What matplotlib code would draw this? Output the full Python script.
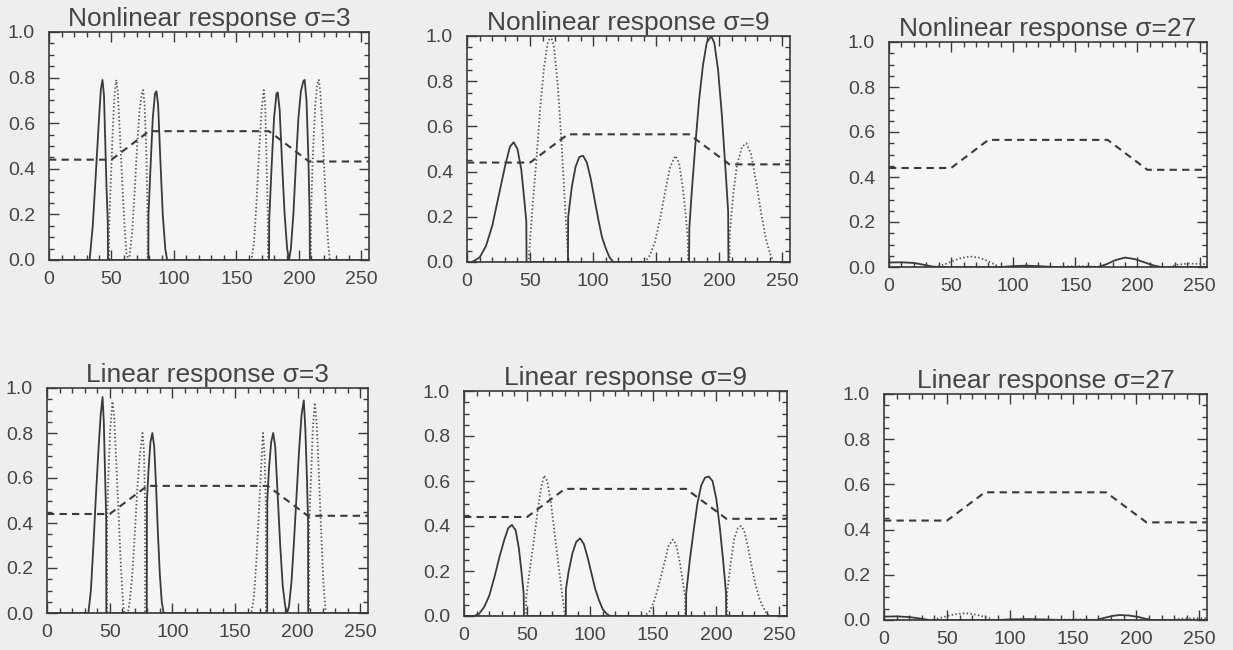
import matplotlib
matplotlib.use("Agg")
import matplotlib.pyplot as plt
from matplotlib.ticker import MultipleLocator

# ---------------- data ----------------
titles = ["Nonlinear response \u03c3=3", "Nonlinear response \u03c3=9", "Nonlinear response \u03c3=27",
          "Linear response \u03c3=3", "Linear response \u03c3=9", "Linear response \u03c3=27"]

# dashed profile (same in every panel)
dash_x = [0, 50, 80, 176, 208, 256]
dash_y = [0.44, 0.44, 0.565, 0.565, 0.432, 0.432]

# Panel 1: Nonlinear sigma=3
nl3_solid_x = [0, 32.5, 35, 37.5, 40, 41.5, 42.8, 44, 45, 46, 47, 47.2,
               79.5, 79.6, 81, 83, 84.8, 86, 87.3, 89, 91, 93, 94.5,
               176, 176.2, 178, 180, 182, 183, 184.5, 186.5, 188.5, 190.5, 192, 193.5, 195.5, 197.5,
               199.5, 201.5, 203.5, 204.5, 206, 207.5, 208.5, 208.7, 256]
nl3_solid_y = [0, 0, 0.15, 0.38, 0.62, 0.75, 0.79, 0.72, 0.52, 0.32, 0.17, 0,
               0, 0.2, 0.38, 0.62, 0.73, 0.74, 0.68, 0.45, 0.2, 0.05, 0,
               0, 0.18, 0.4, 0.62, 0.73, 0.735, 0.66, 0.42, 0.2, 0.05, 0, 0.05, 0.2, 0.42,
               0.62, 0.74, 0.785, 0.79, 0.7, 0.45, 0.2, 0, 0]
nl3_dot_x = [0, 48, 48.2, 49.5, 51, 52.5, 53.8, 55, 56.5, 58.5, 60.5, 62, 63.5, 64.5, 66.5, 68.5,
             70.5, 72.5, 74.5, 75.3, 76.5, 78, 78.8, 79,
             162, 164, 166, 168, 170, 171.8, 173, 174, 175, 175.2,
             209.5, 209.6, 211, 213, 214.5, 215.8, 217, 219, 221, 223, 224.6, 256]
nl3_dot_y = [0, 0, 0.17, 0.35, 0.57, 0.73, 0.79, 0.74, 0.58, 0.35, 0.14, 0.03, 0, 0.02, 0.12, 0.3,
             0.5, 0.66, 0.74, 0.745, 0.68, 0.45, 0.2, 0,
             0, 0.08, 0.25, 0.47, 0.65, 0.745, 0.68, 0.45, 0.2, 0,
             0, 0.2, 0.45, 0.68, 0.77, 0.79, 0.74, 0.55, 0.3, 0.1, 0, 0]

# Panel 2: Nonlinear sigma=9
nl9_solid_x = [0, 4, 10, 15, 20, 25, 30, 34, 37, 40, 43, 45.5, 47, 47.2,
               80, 80.2, 83, 86, 89, 92, 95, 98, 101, 104, 107, 110, 113, 116,
               176, 176.2, 178, 181, 184, 187, 190, 193.5, 196, 199, 202, 205, 207, 207.2, 256]
nl9_solid_y = [0, 0, 0.02, 0.07, 0.16, 0.29, 0.42, 0.51, 0.53, 0.5, 0.41, 0.27, 0.18, 0,
               0, 0.2, 0.33, 0.42, 0.465, 0.47, 0.44, 0.37, 0.28, 0.19, 0.11, 0.06, 0.02, 0,
               0, 0.15, 0.3, 0.52, 0.72, 0.87, 0.97, 1.0, 0.97, 0.85, 0.65, 0.4, 0.22, 0, 0]
nl9_dot_x = [0, 48.8, 50, 52, 55, 58, 61, 64, 66.5, 69, 72, 75, 78, 80, 80.5,
             141, 145, 149, 153, 157, 161, 165, 168, 171, 173.5, 175, 175.3,
             208, 208.2, 211, 214, 218, 221.5, 225, 229, 233, 237, 240, 243, 256]
nl9_dot_y = [0, 0, 0.1, 0.25, 0.45, 0.68, 0.86, 0.97, 1.0, 0.95, 0.78, 0.52, 0.22, 0.03, 0,
             0, 0.03, 0.09, 0.19, 0.31, 0.42, 0.47, 0.44, 0.33, 0.2, 0.1, 0,
             0, 0.12, 0.3, 0.43, 0.51, 0.525, 0.48, 0.36, 0.22, 0.1, 0.04, 0, 0]

# Panel 3: Nonlinear sigma=27
nl27_solid_x = [0, 10, 20, 28, 35, 40, 90, 100, 110, 120, 130, 135,
                168, 175, 182, 190, 198, 206, 213, 219, 256]
nl27_solid_y = [0.02, 0.021, 0.018, 0.01, 0.002, 0, 0, 0.004, 0.006, 0.004, 0.001, 0,
                0, 0.012, 0.03, 0.042, 0.035, 0.02, 0.007, 0, 0]
nl27_dot_x = [0, 37, 45, 52, 58, 65, 72, 79, 85, 89, 135, 145, 155, 165, 170,
              226, 232, 240, 250, 256]
nl27_dot_y = [0, 0, 0.012, 0.028, 0.04, 0.047, 0.042, 0.028, 0.012, 0, 0, 0.003, 0.004, 0.002, 0,
              0, 0.01, 0.015, 0.014, 0.012]

# Panel 4: Linear sigma=3
l3_solid_x = [0, 33, 35, 37, 39, 41, 42.8, 44.3, 45.3, 46.3, 47.2, 47.3,
              79.6, 79.7, 81, 82.5, 84, 85.5, 87, 88.5, 90, 91.5, 93,
              175.6, 175.7, 177, 178.8, 180.4, 182, 184, 186, 188, 190, 191.5, 193, 195, 197,
              199, 201, 203, 204.8, 206, 207.3, 208.2, 208.3, 256]
l3_solid_y = [0, 0, 0.1, 0.3, 0.52, 0.72, 0.88, 0.96, 0.85, 0.62, 0.42, 0,
              0, 0.5, 0.64, 0.76, 0.8, 0.74, 0.56, 0.35, 0.17, 0.05, 0,
              0, 0.5, 0.64, 0.76, 0.8, 0.74, 0.52, 0.3, 0.12, 0.03, 0, 0.03, 0.14, 0.32,
              0.52, 0.72, 0.88, 0.945, 0.82, 0.6, 0.4, 0, 0]
l3_dot_x = [0, 47.9, 48, 49, 50.5, 52.2, 53.5, 55, 57, 59, 60.5, 61.5, 64.5, 66, 68, 70, 72, 74,
            76.2, 77.3, 78.2, 78.3,
            163, 165, 167, 169, 170.8, 172.3, 173.5, 174.5, 174.6,
            209, 209.1, 210.5, 212, 213.6, 215, 216.8, 218.5, 220.3, 221.5, 222.5, 256]
l3_dot_y = [0, 0, 0.42, 0.62, 0.82, 0.94, 0.88, 0.7, 0.45, 0.2, 0.06, 0, 0, 0.05, 0.17, 0.35, 0.55, 0.7,
            0.8, 0.72, 0.5, 0,
            0, 0.07, 0.23, 0.45, 0.65, 0.8, 0.7, 0.5, 0,
            0, 0.4, 0.6, 0.82, 0.935, 0.85, 0.62, 0.38, 0.15, 0.05, 0, 0]

# Panel 5: Linear sigma=9
l9_solid_x = [0, 8, 12, 16, 20, 24, 28, 32, 35, 38, 41, 43.5, 45.5, 47.3, 47.5,
              80.7, 80.8, 83, 86, 89, 92, 95, 98, 101, 104, 107, 110, 113, 116,
              176, 176.1, 179, 182, 185, 188, 191, 194, 197, 200, 203, 205.5, 207.7, 207.8, 256]
l9_solid_y = [0, 0, 0.01, 0.04, 0.09, 0.17, 0.26, 0.34, 0.39, 0.405, 0.38, 0.3, 0.2, 0.1, 0,
              0, 0.12, 0.2, 0.28, 0.33, 0.345, 0.32, 0.26, 0.19, 0.12, 0.07, 0.03, 0.01, 0,
              0, 0.1, 0.25, 0.38, 0.5, 0.58, 0.615, 0.62, 0.6, 0.52, 0.38, 0.24, 0.1, 0, 0]
l9_dot_x = [0, 49.2, 49.3, 52, 55, 58, 61, 63.5, 66, 69, 72, 75, 78, 80.1,
            143, 147, 151, 155, 159, 162, 165.5, 168, 171, 173.5, 175.3, 175.4,
            208.4, 208.5, 211, 214, 217, 219.5, 222, 225, 228, 231, 234, 237, 240, 242, 256]
l9_dot_y = [0, 0, 0.08, 0.2, 0.32, 0.45, 0.57, 0.625, 0.6, 0.5, 0.36, 0.22, 0.09, 0,
            0, 0.02, 0.07, 0.15, 0.24, 0.31, 0.34, 0.32, 0.24, 0.15, 0.08, 0,
            0, 0.1, 0.22, 0.34, 0.39, 0.4, 0.38, 0.31, 0.22, 0.14, 0.08, 0.04, 0.01, 0, 0]

# Panel 6: Linear sigma=27
l27_solid_x = [0, 10, 20, 28, 36, 90, 100, 115, 130, 140, 168, 175, 181, 187, 194, 201, 207, 212, 256]
l27_solid_y = [0.015, 0.016, 0.013, 0.007, 0, 0, 0.003, 0.004, 0.002, 0, 0, 0.01, 0.018, 0.022,
               0.02, 0.014, 0.006, 0, 0]
l27_dot_x = [0, 38, 45, 52, 58, 64, 70, 77, 83, 87, 130, 140, 155, 165, 170, 228, 235, 245, 256]
l27_dot_y = [0, 0, 0.01, 0.02, 0.027, 0.03, 0.027, 0.018, 0.008, 0, 0, 0.002, 0.003, 0.001, 0,
             0, 0.006, 0.008, 0.008]

solid_x = [nl3_solid_x, nl9_solid_x, nl27_solid_x, l3_solid_x, l9_solid_x, l27_solid_x]
solid_y = [nl3_solid_y, nl9_solid_y, nl27_solid_y, l3_solid_y, l9_solid_y, l27_solid_y]
dot_x = [nl3_dot_x, nl9_dot_x, nl27_dot_x, l3_dot_x, l9_dot_x, l27_dot_x]
dot_y = [nl3_dot_y, nl9_dot_y, nl27_dot_y, l3_dot_y, l9_dot_y, l27_dot_y]

xticks = [0, 50, 100, 150, 200, 250]
yticks = [0.0, 0.2, 0.4, 0.6, 0.8, 1.0]

# ---------------- layout / style ----------------
W, H = 1233, 650
boxes_px = [(49, 32, 369, 260), (467, 36, 790, 262), (889, 42, 1207, 267),
            (47, 388, 368, 613), (464, 391, 787, 616), (884, 394, 1207, 620)]
ink = "#3a3a3a"
font = ["Liberation Sans", "DejaVu Sans"]

fig = plt.figure(figsize=(W / 100, H / 100), dpi=100, facecolor="#eeeeee")

for i, (l, t, r, b) in enumerate(boxes_px):
    ax = fig.add_axes([l / W, 1 - b / H, (r - l) / W, (b - t) / H])
    ax.set_facecolor("#f5f5f5")
    ax.plot(dash_x, dash_y, color=ink, lw=1.5, linestyle=(0, (3.5, 2.5)))
    ax.plot(dot_x[i], dot_y[i], color="#555555", lw=1.3, linestyle=(0, (0.8, 1.3)))
    ax.plot(solid_x[i], solid_y[i], color=ink, lw=1.3)
    ax.set_xlim(0, 256)
    ax.set_ylim(0, 1.0)
    ax.set_xticks(xticks)
    ax.set_yticks(yticks)
    ax.set_yticklabels([f"{v:.1f}" for v in yticks])
    ax.xaxis.set_minor_locator(MultipleLocator(10))
    ax.yaxis.set_minor_locator(MultipleLocator(0.05))
    ax.tick_params(which="both", direction="in", top=True, right=True, colors=ink,
                   labelsize=14, width=1.0)
    ax.tick_params(which="major", length=7)
    ax.tick_params(axis="x", which="major", pad=8)
    ax.tick_params(axis="y", which="major", pad=10)
    ax.tick_params(which="minor", length=3.5)
    for lab in ax.get_xticklabels() + ax.get_yticklabels():
        lab.set_family(font)
        lab.set_color("#444444")
    for s in ax.spines.values():
        s.set_color(ink)
        s.set_linewidth(1.2)
    ax.set_title(titles[i], fontsize=19, color="#444444", family=font, pad=4)

fig.savefig("out.png", dpi=100, facecolor=fig.get_facecolor())
